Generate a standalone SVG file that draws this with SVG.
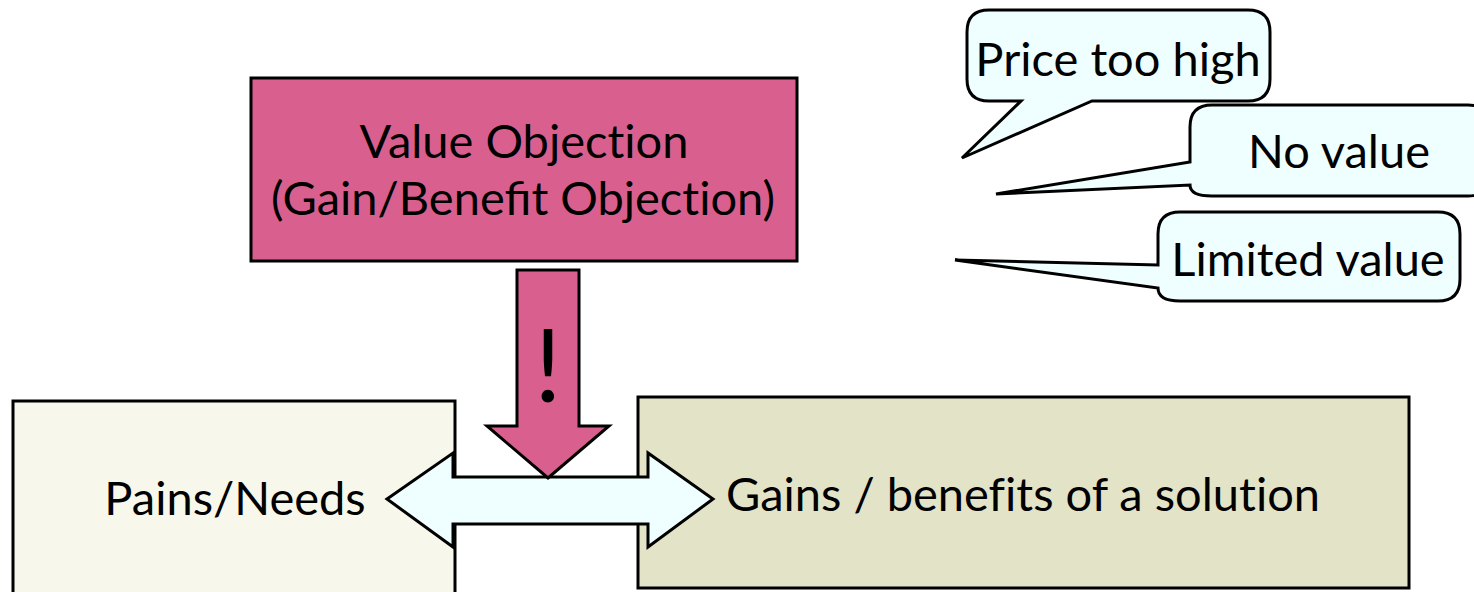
<svg xmlns="http://www.w3.org/2000/svg" width="1474" height="592" viewBox="0 0 1474 592">
<style>
.s{stroke:#000;stroke-width:3;stroke-linejoin:miter}
.t{font-family:Lato,"Open Sans","Liberation Sans",sans-serif;font-size:47px;fill:#000;text-anchor:middle;font-variant-ligatures:none}
.lig{font-variant-ligatures:common-ligatures}
.call{fill:#EFFEFE;stroke:#000;stroke-width:3;stroke-linejoin:miter}
</style>
<rect width="1474" height="592" fill="#fff"/>
<g id="pains">
<rect class="s" x="13" y="401" width="442" height="200" fill="#F7F7EB"/>
<text class="t" x="235" y="515">Pains/Needs</text>
</g>
<g id="gains">
<rect class="s" x="638" y="397" width="771" height="191" fill="#E3E3C8"/>
<text class="t" x="1023" y="511">Gains / benefits of a solution</text>
</g>
<g id="objection">
<rect class="s" x="251" y="78" width="546" height="183" fill="#D9608E"/>
<text class="t" x="524" y="158">Value Objection</text>
<text class="t" x="523" y="215">(Gain/<tspan class="lig">Benefit</tspan> Objection)</text>
</g>
<g id="connectors">
<path class="s" fill="#EFFEFE" d="M387,499 L453,453 V477 H648 V453 L713,499 L648,547 V524 H453 V547 Z"/>
<path class="s" fill="#D9608E" d="M517,270 H579 V426 H609 L548,478 L487,426 H517 Z"/>
<text x="548" y="402" style="font-family:Lato,'Open Sans','Liberation Sans',sans-serif;font-size:100px;text-anchor:middle;fill:#000">!</text>
</g>
<g id="price">
<path class="call" d="M989,10 H1248 Q1270,10 1270,32 V79 Q1270,101 1248,101 H1092 L962,158 L1021,101 H989 Q967,101 967,79 V32 Q967,10 989,10 Z"/>
<text class="t" x="1118" y="76">Price too high</text>
</g>
<g id="novalue">
<path class="call" d="M1212,105 H1468 Q1490,105 1490,127 V174 Q1490,196 1468,196 H1212 Q1190,196 1190,185 L996,194 L1190,162 V127 Q1190,105 1212,105 Z"/>
<text class="t" x="1339" y="168">No value</text>
</g>
<g id="limited">
<path class="call" d="M1180,212 H1438 Q1460,212 1460,234 V279 Q1460,301 1438,301 H1180 Q1158,301 1158,288 L955,260 L1158,265 V234 Q1158,212 1180,212 Z"/>
<text class="t" x="1308" y="276">Limited value</text>
</g>
</svg>
